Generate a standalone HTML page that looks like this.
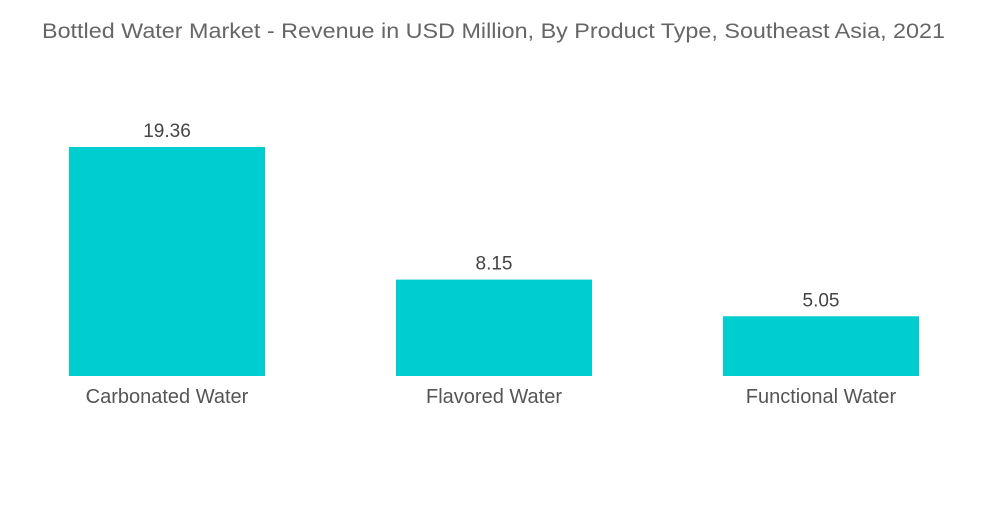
<!DOCTYPE html>
<html><head><meta charset="utf-8"><style>
body{margin:0;background:#fff;width:1000px;height:504px;overflow:hidden;font-family:"Liberation Sans",sans-serif}
</style></head><body>
<svg width="1000" height="504">
<text x="42" y="38" textLength="903" lengthAdjust="spacingAndGlyphs" font-size="21.5" fill="#666">Bottled Water Market - Revenue in USD Million, By Product Type, Southeast Asia, 2021</text>
<g id="bars"></g>
</svg>
<script>
const categories=["Carbonated Water","Flavored Water","Functional Water"];
const values=[19.36,8.15,5.05];
const valueLabels=["19.36","8.15","5.05"];
const baseY=376, scale=229/19.36, barW=196;
const xCenter=i=>167+i*327;
const yPos=v=>baseY-v*scale;
const g=document.getElementById('bars');
const NS="http://www.w3.org/2000/svg";
categories.forEach((c,i)=>{
 const r=document.createElementNS(NS,'rect');
 r.setAttribute('x',xCenter(i)-barW/2);r.setAttribute('y',yPos(values[i]));
 r.setAttribute('width',barW);r.setAttribute('height',baseY-yPos(values[i]));
 r.setAttribute('fill','#00cdd0');
 
 
 g.appendChild(r);
 const t=document.createElementNS(NS,'text');
 t.setAttribute('x',xCenter(i));t.setAttribute('y',yPos(values[i])-10);
 t.setAttribute('text-anchor','middle');t.setAttribute('font-size','19');t.setAttribute('fill','#444');
 t.textContent=valueLabels[i];
 
 
 g.appendChild(t);
 const l=document.createElementNS(NS,'text');
 l.setAttribute('x',xCenter(i));l.setAttribute('y',403);
 l.setAttribute('text-anchor','middle');l.setAttribute('font-size','20');l.setAttribute('fill','#555');
 l.textContent=c;
 
 
 g.appendChild(l);
});
</script>
</body></html>
